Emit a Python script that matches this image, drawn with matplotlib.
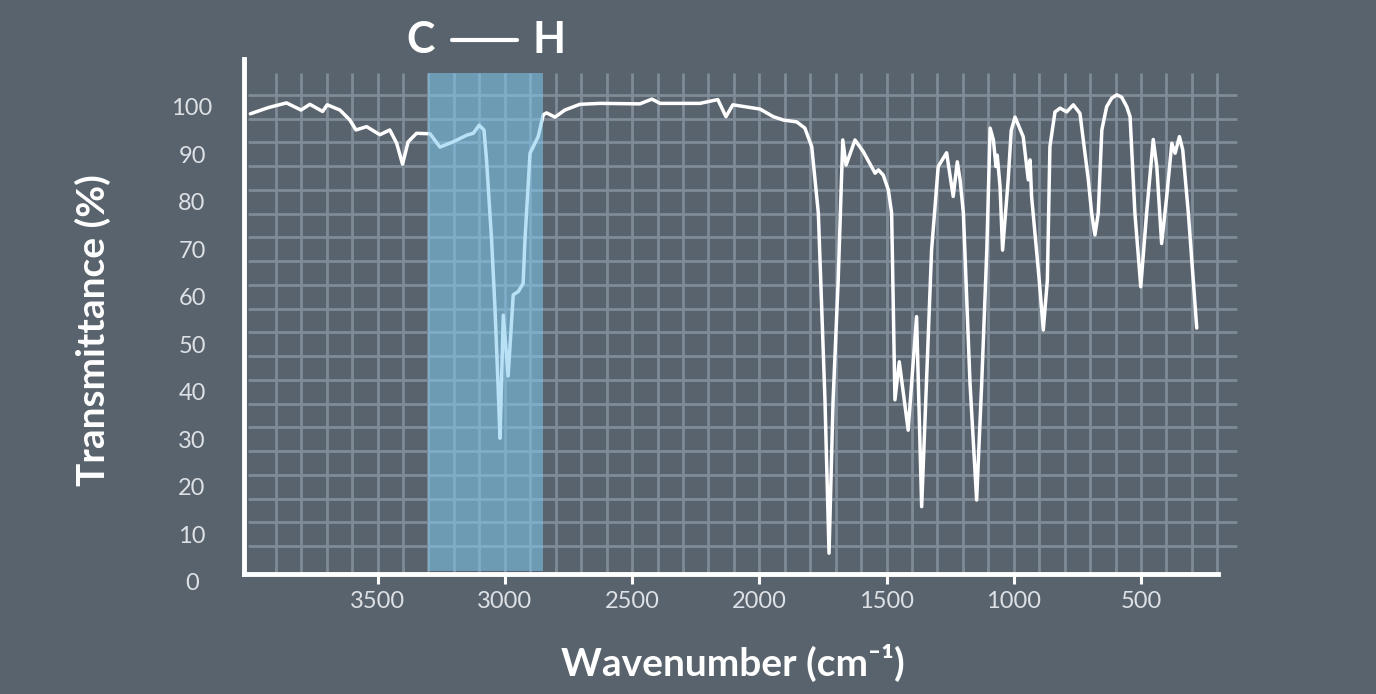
import matplotlib
matplotlib.use('Agg')
import matplotlib.pyplot as plt
from matplotlib.lines import Line2D

plt.rcParams['font.family'] = ['Lato', 'DejaVu Sans']

# IR spectrum (wavenumber in cm-1, transmittance in %)
wavenumber = [4000, 3930, 3858, 3801, 3766, 3716, 3698, 3648, 3609, 3585, 3543,
              3491, 3452, 3425, 3402, 3380, 3347, 3294, 3255, 3203, 3150,
              3124, 3101, 3082, 3072, 3052, 3039, 3026, 3019, 3006, 2987,
              2967, 2947, 2928, 2921, 2901, 2869, 2849, 2836, 2803, 2764,
              2705, 2626, 2469, 2422, 2390, 2233, 2163, 2131, 2104, 1997,
              1945, 1906, 1853, 1821, 1794, 1768, 1742, 1726, 1710, 1690,
              1672, 1659, 1624, 1591, 1545, 1532, 1513, 1493, 1480, 1467,
              1450, 1415, 1382, 1362, 1323, 1297, 1264, 1238, 1222, 1211,
              1198, 1172, 1146, 1126, 1106, 1093, 1080, 1070, 1065, 1054, 1044, 1022,
              1010, 995, 985, 963, 943, 936, 930, 900, 884, 868, 858, 838, 818, 792,
              766, 740, 707, 694, 681, 668, 654, 635, 615, 595, 576, 556, 543, 524,
              501, 478, 452, 438, 419, 399, 379, 366, 349, 336,
              314, 281]
transmittance = [98.5, 99.8, 100.8, 99.3, 100.5, 99.0, 100.4, 99.3, 97.2, 95.1, 95.8,
                 94.1, 95.1, 92.3, 87.9, 92.6, 94.4, 94.3, 91.5, 92.6, 94.0,
                 94.4, 96.1, 95.1, 88.8, 71.9, 57.9, 40.4, 30.2, 56.1, 43.3,
                 60.4, 61.1, 62.8, 71.9, 90.2, 93.7, 98.3, 98.7, 97.8, 99.3,
                 100.5, 100.7, 100.6, 101.6, 100.7, 100.7, 101.5, 97.9, 100.4, 99.5,
                 97.9, 97.2, 96.8, 95.5, 91.6, 77.6, 38.3, 6.0, 38.3, 63.5,
                 93.0, 87.7, 93.0, 90.5, 86.0, 86.7, 85.6, 82.5, 77.6, 38.3,
                 46.3, 31.9, 55.8, 15.8, 69.8, 87.4, 90.3, 81.1, 88.4, 84.6,
                 77.6, 41.8, 17.2, 41.8, 69.8, 95.5, 93.0, 87.4, 89.8, 83.2, 69.8, 84.6,
                 95.0, 97.8, 96.5, 93.7, 84.6, 88.8, 81.1, 63.5, 53.0, 63.5, 91.6, 98.9, 99.7, 98.9,
                 100.4, 98.6, 84.6, 77.6, 73.0, 77.6, 95.1, 100.0, 101.8, 102.5, 102.0, 100.0, 97.9, 77.6,
                 62.1, 77.6, 93.1, 87.4, 71.2, 81.1, 92.3, 90.2, 93.7, 90.9,
                 77.6, 53.4]

x_ticks = [3500, 3000, 2500, 2000, 1500, 1000, 500]
y_ticks = [0, 10, 20, 30, 40, 50, 60, 70, 80, 90, 100]
grid_x = list(range(3900, 100, -100))
grid_y = [7.5 + 5 * i for i in range(20)]
band_lo, band_hi = 2850, 3300

bg = '#59636d'
grid_c = '#7f8b97'

fig = plt.figure(figsize=(13.76, 6.94), dpi=100, facecolor=bg)
ax = fig.add_axes([244 / 1376, 0.1618, (1242.8 - 244) / 1376, 0.7529])
ax.set_facecolor(bg)
ax.set_xlim(4025, 100)
ax.set_ylim(0, 110)

# decorative grid
ax.vlines(grid_x, 1.6, 107.1, color=grid_c, lw=2.0, zorder=1)
ax.hlines(grid_y, 4009, 123, color=grid_c, lw=2.0, zorder=1)

ax.plot(wavenumber, transmittance, color='white', lw=2.5,
        solid_joinstyle='round', solid_capstyle='round', zorder=3)

# C-H stretch region
ax.axvspan(band_lo, band_hi, ymin=2.2 / 110, ymax=107.1 / 110,
           color='#80caf0', alpha=0.55, lw=0, zorder=4)

for s in ['top', 'right']:
    ax.spines[s].set_visible(False)
ax.spines['left'].set_color('white')
ax.spines['left'].set_linewidth(3.5)
ax.spines['bottom'].set_color('white')
ax.spines['bottom'].set_linewidth(3.5)
ax.spines['bottom'].set_position(('data', 1.6))
ax.spines['bottom'].set_bounds(4025, 197)
ax.spines['left'].set_bounds(1.6, 110)

ax.set_xticks(x_ticks)
ax.set_xticklabels([str(t) for t in x_ticks])
ax.set_yticks(y_ticks)
ax.set_yticklabels([str(t) for t in y_ticks])
ax.tick_params(axis='x', colors='white', length=7, width=2.2, pad=5,
               labelsize=17, labelcolor='#dde1e5')
ax.tick_params(axis='y', length=0, pad=37.4, labelsize=17,
               labelcolor='#dde1e5')
for lbl in ax.get_yticklabels():
    lbl.set_horizontalalignment('center')

fig.text(733 / 1376, 1 - 663 / 694, 'Wavenumber (cm⁻¹)', color='white',
         fontsize=28, fontweight='bold', ha='center', va='center')
fig.text(93 / 1376, 1 - 330 / 694, 'Transmittance (%)', color='white',
         fontsize=28, fontweight='bold', ha='center', va='center',
         rotation=90)

# "C — H" label over the band
fig.text(421 / 1376, 1 - 40 / 694, 'C', color='white', fontsize=31,
         fontweight='bold', ha='center', va='center')
fig.text(549 / 1376, 1 - 40 / 694, 'H', color='white', fontsize=31,
         fontweight='bold', ha='center', va='center')
fig.add_artist(Line2D([452 / 1376, 517 / 1376], [1 - 40 / 694, 1 - 40 / 694],
                      color='white', lw=3.0, solid_capstyle='round'))

fig.savefig('out.png', dpi=100, facecolor=bg)
